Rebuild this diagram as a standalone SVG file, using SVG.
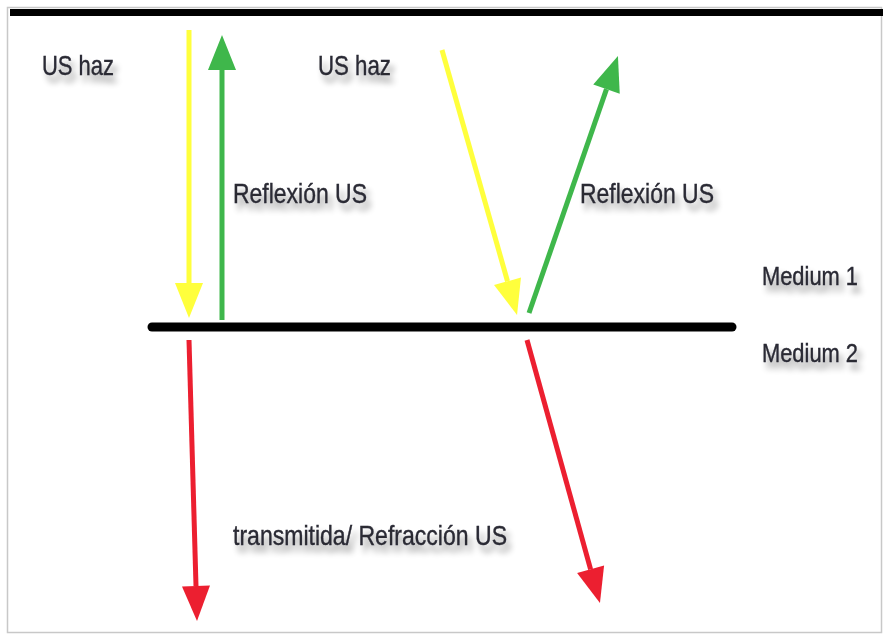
<svg xmlns="http://www.w3.org/2000/svg" width="883" height="635" viewBox="0 0 883 635">
  <style>
    .lbl { font-family: "Liberation Sans", Arial, sans-serif; font-size: 28px; fill: #2a2a34; stroke: #2a2a34; stroke-width: 0.4; filter: url(#shadow); }
    .side { font-size: 26.5px; }
    .shaft { stroke-width: 5; fill: none; stroke-linecap: butt; }
    .incident { stroke: #ffff3c; }
    .reflected { stroke: #3fb74b; }
    .transmitted { stroke: #ec1f30; }
  </style>
  <defs>
    <filter id="shadow" x="-10%" y="-30%" width="125%" height="190%">
      <feGaussianBlur in="SourceAlpha" stdDeviation="3"/>
      <feOffset dx="4" dy="7" result="off"/>
      <feComponentTransfer><feFuncA type="linear" slope="0.4"/></feComponentTransfer>
      <feMerge><feMergeNode/><feMergeNode in="SourceGraphic"/></feMerge>
    </filter>
    <marker id="headY" markerUnits="userSpaceOnUse" viewBox="0 -15 36 30" refX="0" refY="0" markerWidth="36" markerHeight="30" orient="auto" overflow="visible">
      <path d="M0,-14 L35,0 L0,14 z" fill="#ffff3c"/>
    </marker>
    <marker id="headG" markerUnits="userSpaceOnUse" viewBox="0 -15 36 30" refX="0" refY="0" markerWidth="36" markerHeight="30" orient="auto" overflow="visible">
      <path d="M0,-14 L35,0 L0,14 z" fill="#3fb74b"/>
    </marker>
    <marker id="headR" markerUnits="userSpaceOnUse" viewBox="0 -15 36 30" refX="0" refY="0" markerWidth="36" markerHeight="30" orient="auto" overflow="visible">
      <path d="M0,-14 L35,0 L0,14 z" fill="#ec1f30"/>
    </marker>
  </defs>

  <!-- page frame -->
  <rect x="0" y="0" width="883" height="635" fill="#ffffff"/>
  <rect x="7.5" y="7.5" width="874" height="625" fill="none" stroke="#c8c8c8" stroke-width="1.5"/>
  <rect x="10" y="9" width="873" height="7" fill="#000000"/>

  <!-- interface between the two media -->
  <g id="interface">
    <line x1="152" y1="327" x2="732" y2="327" stroke="#000000" stroke-width="9" stroke-linecap="round"/>
  </g>

  <!-- beams -->
  <g id="connectors">
    <line class="shaft incident" x1="189" y1="30" x2="189" y2="283" marker-end="url(#headY)"/>
    <line class="shaft reflected" x1="222" y1="320" x2="222" y2="70" marker-end="url(#headG)"/>
    <line class="shaft transmitted" x1="189" y1="340" x2="196" y2="586" marker-end="url(#headR)"/>
    <line class="shaft incident" x1="442" y1="50" x2="507.5" y2="281.3" marker-end="url(#headY)"/>
    <line class="shaft reflected" x1="529" y1="313" x2="606.5" y2="89.1" marker-end="url(#headG)"/>
    <line class="shaft transmitted" x1="527" y1="340" x2="590.6" y2="569.3" marker-end="url(#headR)"/>
  </g>

  <!-- labels -->
  <g id="label-us-haz-1"><text class="lbl" x="42" y="75" textLength="72" lengthAdjust="spacingAndGlyphs">US haz</text></g>
  <g id="label-us-haz-2"><text class="lbl" x="318" y="75" textLength="73" lengthAdjust="spacingAndGlyphs">US haz</text></g>
  <g id="label-reflexion-1"><text class="lbl" x="233" y="203" textLength="134" lengthAdjust="spacingAndGlyphs">Reflexión US</text></g>
  <g id="label-reflexion-2"><text class="lbl" x="580" y="203" textLength="134" lengthAdjust="spacingAndGlyphs">Reflexión US</text></g>
  <g id="label-medium-1"><text class="lbl side" x="762" y="285" textLength="96" lengthAdjust="spacingAndGlyphs">Medium 1</text></g>
  <g id="label-medium-2"><text class="lbl side" x="762" y="362" textLength="96" lengthAdjust="spacingAndGlyphs">Medium 2</text></g>
  <g id="label-transmitida"><text class="lbl" x="233" y="545" textLength="274" lengthAdjust="spacingAndGlyphs">transmitida/ Refracción US</text></g>
</svg>
